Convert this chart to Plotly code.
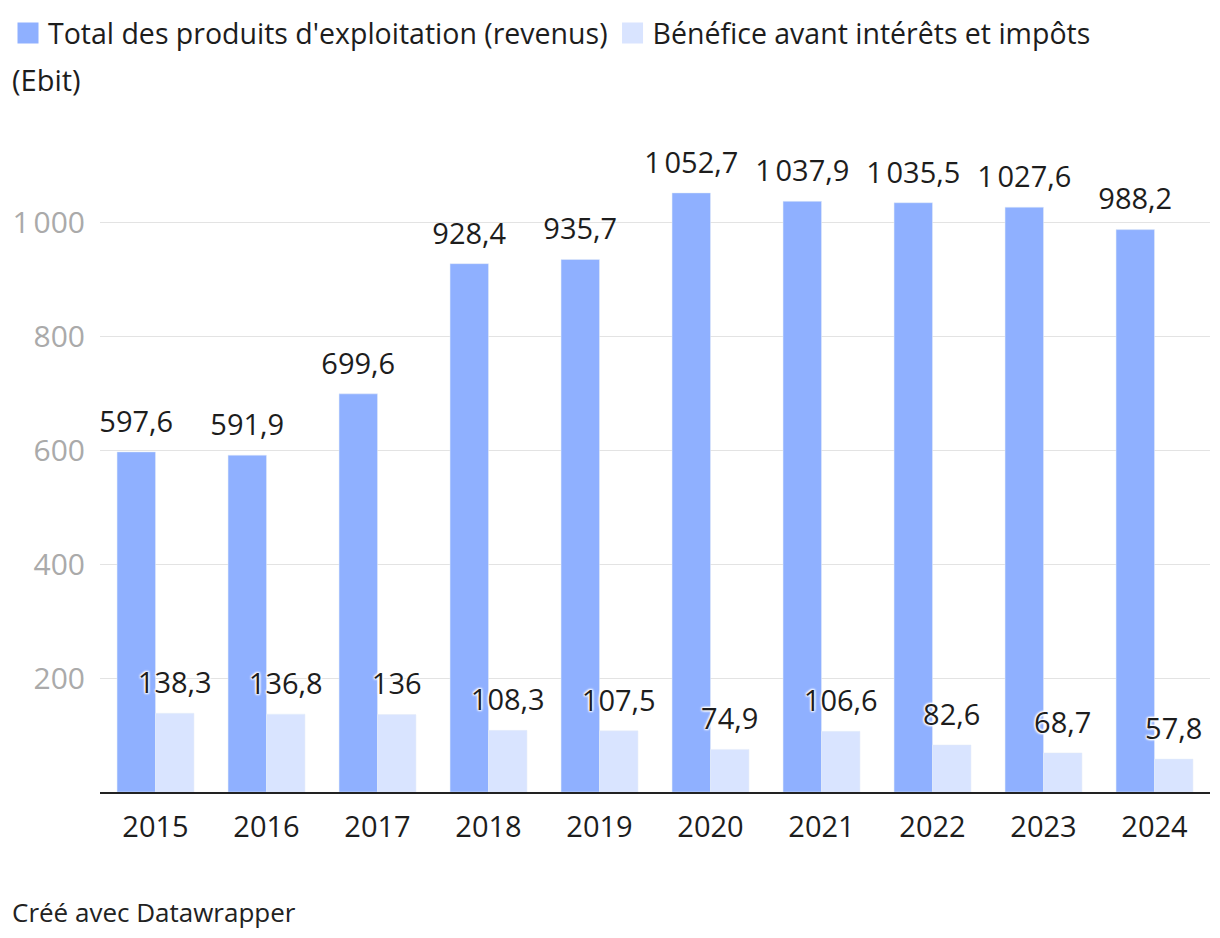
import plotly.graph_objects as go

years = ["2015", "2016", "2017", "2018", "2019", "2020", "2021", "2022", "2023", "2024"]
revenus = [597.6, 591.9, 699.6, 928.4, 935.7, 1052.7, 1037.9, 1035.5, 1027.6, 988.2]
ebit = [138.3, 136.8, 136.0, 108.3, 107.5, 74.9, 106.6, 82.6, 68.7, 57.8]
tick_vals = [200, 400, 600, 800, 1000]
tick_text = ["200", "400", "600", "800", "1\u202f000"]

name_rev = "Total des produits d'exploitation (revenus)"
name_ebit = "Bénéfice avant intérêts et impôts"


def fmt(v):
    s = f"{v:.1f}".rstrip("0").rstrip(".")
    ip, _, dp = s.partition(".")
    n = int(ip)
    ip = f"{n:,}".replace(",", "\u202f")
    return ip + ("," + dp if dp else "")


FONT = "'Open Sans', Lato, sans-serif"
FS = 29
halo = "1px 1px 2px white, -1px -1px 2px white, 1px -1px 2px white, -1px 1px 2px white"
C_REV = "#8fb0ff"
C_EBIT = "#d9e4ff"

# figure geometry (the page body adds an 8px offset)
W, H = 1204, 922
L, R, T, B = 92, 2, 158, 138
PW, PH = W - L - R, H - T - B

fig = go.Figure()
fig.add_trace(go.Bar(
    x=years, y=revenus, name=name_rev, marker_color=C_REV, offsetgroup="a",
    showlegend=False, hoverinfo="skip",
))
fig.add_trace(go.Bar(
    x=years, y=ebit, name=name_ebit, marker_color=C_EBIT, offsetgroup="b",
    showlegend=False, hoverinfo="skip",
))
# value labels, aligned with the grouped bars
fig.add_trace(go.Scatter(
    x=years, y=revenus, mode="markers+text", offsetgroup="a", showlegend=False,
    marker=dict(size=19, opacity=0, color=C_REV),
    text=[fmt(v) for v in revenus], textposition="top center",
    textfont=dict(size=FS, color="#1d1d1d", family=FONT), cliponaxis=False,
    hoverinfo="skip",
))
fig.add_trace(go.Scatter(
    x=years, y=ebit, mode="markers+text", offsetgroup="b", showlegend=False,
    marker=dict(size=19, opacity=0, color=C_EBIT),
    text=[fmt(v) for v in ebit], textposition="top center",
    textfont=dict(size=FS, color="#1d1d1d", family=FONT, shadow=halo), cliponaxis=False,
    hoverinfo="skip",
))
# legend entries with larger square swatches
for nm, col in [(name_rev, C_REV), (name_ebit, C_EBIT)]:
    fig.add_trace(go.Scatter(
        x=[None], y=[None], mode="markers", name=nm,
        marker=dict(symbol="square", size=24, color=col, line=dict(width=8, color=col)),
        hoverinfo="skip",
    ))

fig.update_layout(
    width=W, height=H,
    margin=dict(l=L, r=R, t=T, b=B, autoexpand=False),
    paper_bgcolor="white", plot_bgcolor="white",
    barmode="group", bargap=0.307, bargroupgap=0,
    scattermode="group", scattergap=0.307,
    font=dict(family=FONT, color="#1d1d1d"),
    showlegend=True,
    legend=dict(
        orientation="h", xref="container", yref="container",
        x=-11 / W, y=1.0, xanchor="left", yanchor="top",
        font=dict(size=28.5, color="#1d1d1d", family=FONT),
        itemclick=False, itemdoubleclick=False,
        bgcolor="rgba(0,0,0,0)", tracegroupgap=0,
    ),
    xaxis=dict(
        type="category", showgrid=False, showline=True, linecolor="#222", linewidth=2,
        ticks="", tickfont=dict(size=FS, color="#1d1d1d", family=FONT),
        ticklabelstandoff=8, fixedrange=True, automargin=False,
    ),
    yaxis=dict(
        range=[0, 1100], tickvals=tick_vals, ticktext=tick_text,
        showgrid=True, gridcolor="#e3e3e3", gridwidth=1, zeroline=False,
        ticks="", tickfont=dict(size=30, color="#aaaaaa", family=FONT),
        ticklabelstandoff=14, fixedrange=True, automargin=False,
    ),
    annotations=[
        dict(text="(Ebit)", xref="paper", yref="paper", x=(2 - L) / PW, y=1 + (T - 72) / PH,
             xanchor="left", yanchor="middle", showarrow=False,
             font=dict(size=FS, color="#1d1d1d", family=FONT)),
        dict(text="Créé avec Datawrapper", xref="paper", yref="paper", x=(2 - L) / PW,
             y=-(904 - (T + PH)) / PH, xanchor="left", yanchor="middle", showarrow=False,
             font=dict(size=26, color="#222", family=FONT)),
    ],
)

fig.write_html("out.html", config={"displayModeBar": False})
